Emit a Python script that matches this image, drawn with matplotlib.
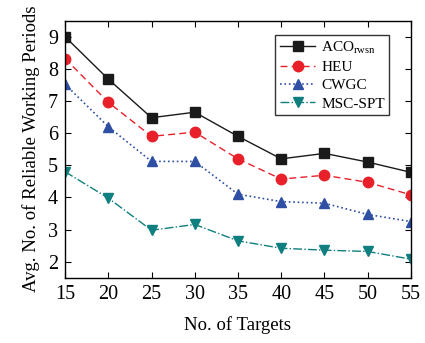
import matplotlib
matplotlib.use('Agg')
import matplotlib.pyplot as plt

targets = [15, 20, 25, 30, 35, 40, 45, 50, 55]
aco = [9.0, 7.68, 6.48, 6.65, 5.9, 5.2, 5.37, 5.1, 4.78]
heu = [8.32, 6.96, 5.9, 6.03, 5.2, 4.57, 4.69, 4.47, 4.08]
cwgc = [7.52, 6.2, 5.12, 5.12, 4.1, 3.87, 3.82, 3.47, 3.25]
msc = [4.8, 3.98, 2.98, 3.16, 2.65, 2.42, 2.36, 2.32, 2.08]

plt.rcParams['font.family'] = ['Liberation Serif', 'DejaVu Serif']
plt.rcParams['mathtext.fontset'] = 'custom'
plt.rcParams['mathtext.rm'] = 'Liberation Serif'

fig, ax = plt.subplots(figsize=(4.25, 3.43), dpi=100)
fig.subplots_adjust(left=0.153, right=0.967, top=0.94, bottom=0.19)

ax.plot(targets, aco, '-', color='#1a1a1a', marker='s', ms=7, lw=1.0, label=r'ACO$_{\rm rwsn}$')
ax.plot(targets, heu, '--', color='#e8202a', marker='o', ms=7.5, lw=1.0, label='HEU', dashes=(5, 3))
ax.plot(targets, cwgc, ':', color='#2e4fa3', marker='^', ms=7.5, lw=1.2, label='CWGC')
ax.plot(targets, msc, '-.', color='#0f7f7f', marker='v', ms=7.5, lw=1.0, label='MSC-SPT')

ax.set_xlim(15, 55)
ax.set_ylim(1.5, 9.5)
ax.set_xticks(targets)
ax.set_yticks(range(2, 10))
ax.tick_params(direction='in', top=True, right=True, labelsize=14.5, length=4, pad=5)
for s in ax.spines.values():
    s.set_linewidth(1.0)

ax.set_xlabel('No. of Targets', fontsize=13.5, labelpad=9)
ax.set_ylabel('Avg. No. of Reliable Working Periods', fontsize=13.5, labelpad=6)

leg = ax.legend(loc='upper right', fontsize=11, frameon=True, fancybox=False,
                edgecolor='black', handlelength=2.3, borderpad=0.3,
                labelspacing=0.3, handletextpad=0.4, bbox_to_anchor=(0.96, 0.975))
leg.get_frame().set_linewidth(1.0)

fig.savefig('out.png', dpi=100)
